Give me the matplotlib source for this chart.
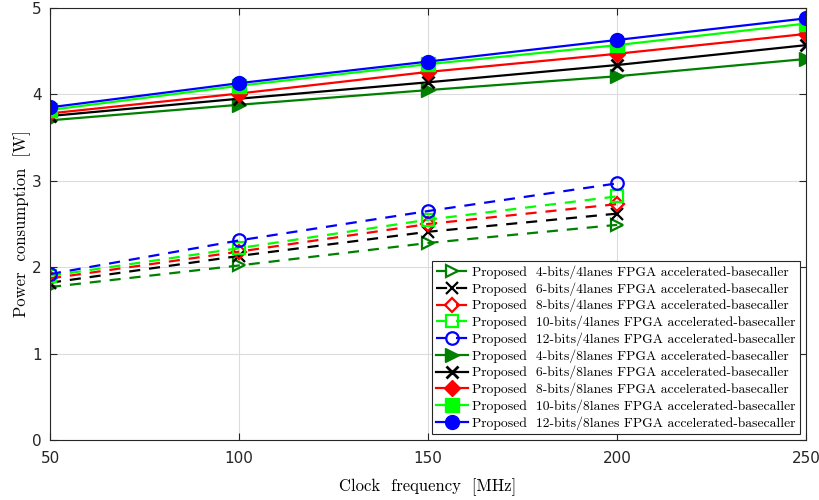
import numpy as np
import matplotlib.pyplot as plt

clock_4lanes = [50, 100, 150, 200]
clock_8lanes = [50, 100, 150, 200, 250]

# 4-lane designs (dashed, open markers)
p4_4bits = [1.77, 2.02, 2.28, 2.49]
p6_4bits = [1.82, 2.13, 2.41, 2.62]
p8_4bits = [1.87, 2.18, 2.50, 2.73]
p10_4bits = [1.90, 2.22, 2.55, 2.82]
p12_4bits = [1.92, 2.31, 2.65, 2.97]

# 8-lane designs (solid, filled markers)
p4_8 = [3.70, 3.88, 4.05, 4.21, 4.41]
p6_8 = [3.75, 3.95, 4.14, 4.34, 4.57]
p8_8 = [3.78, 4.01, 4.26, 4.47, 4.70]
p10_8 = [3.82, 4.10, 4.35, 4.57, 4.82]
p12_8 = [3.85, 4.13, 4.38, 4.63, 4.88]

bits = ["4", "6", "8", "10", "12"]
colors = [(0, 0.5, 0), "k", "r", (0, 1, 0), "b"]
markers = [">", "x", "D", "s", "o"]

serif = "cmr10"

fig = plt.figure(figsize=(8.19, 5.0), dpi=100)
ax = fig.add_axes([50 / 819, 60 / 500, 756 / 819, 432 / 500])

for b, c, m, y in zip(bits, colors, markers, [p4_4bits, p6_4bits, p8_4bits, p10_4bits, p12_4bits]):
    ms = 7 if m == "D" else 9
    ax.plot(clock_4lanes, y, linestyle="--", color=c, marker=m, markersize=ms,
            markerfacecolor="none", markeredgecolor=c, markeredgewidth=1.6, linewidth=1.6,
            dashes=(5, 4),
            label=f"Proposed  {b}-bits/4lanes FPGA accelerated-basecaller")

for b, c, m, y in zip(bits, colors, markers, [p4_8, p6_8, p8_8, p10_8, p12_8]):
    ms = 8 if m in ("D", "x") else 10
    ax.plot(clock_8lanes, y, linestyle="-", color=c, marker=m, markersize=ms,
            markerfacecolor=c, markeredgecolor=c, markeredgewidth=2 if m == "x" else 1,
            linewidth=1.6,
            label=f"Proposed  {b}-bits/8lanes FPGA accelerated-basecaller")

ax.set_xlim(50, 250)
ax.set_ylim(0, 5)
ax.set_xticks([50, 100, 150, 200, 250])
ax.set_yticks([0, 1, 2, 3, 4, 5])
ax.grid(True, color="#dcdcdc", linewidth=0.8)
ax.set_axisbelow(True)
ax.tick_params(direction="in", top=True, right=True, labelsize=11, length=5,
               colors="#262626")
ax.tick_params(axis="x", pad=8)
ax.tick_params(axis="y", pad=6)
for s in ax.spines.values():
    s.set_color("#262626")
    s.set_linewidth(0.8)

ax.set_xlabel("Clock  frequency  [MHz]", family=serif, fontsize=12, labelpad=9)
ax.set_ylabel("Power  consumption  [W]", family=serif, fontsize=12, labelpad=1)

leg = ax.legend(loc="lower right", prop={"family": serif, "size": 9.8},
                fancybox=False, edgecolor="#262626", framealpha=1,
                labelspacing=0.24, handlelength=2.3, handletextpad=0.35,
                borderpad=0.3, borderaxespad=0.45)
leg.get_frame().set_linewidth(0.8)

fig.savefig("out.png", dpi=100)
